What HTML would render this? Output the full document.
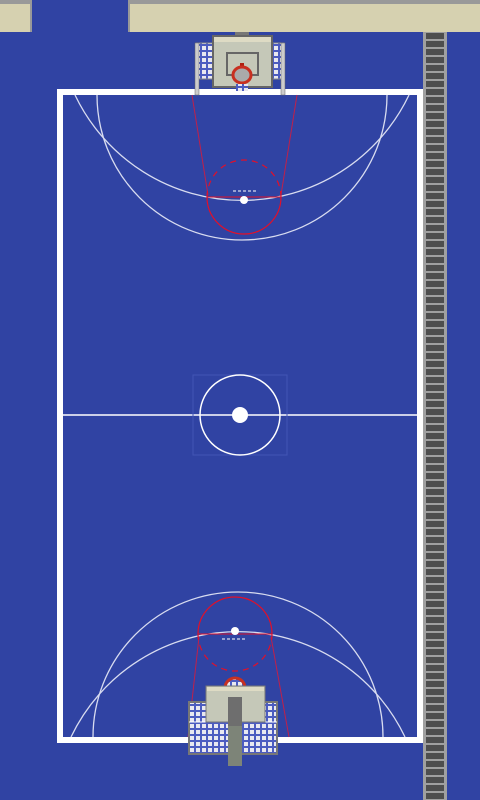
<!DOCTYPE html>
<html><head><meta charset="utf-8"><style>
html,body{margin:0;padding:0;width:480px;height:800px;overflow:hidden;background:#3043a3;font-family:"Liberation Sans",sans-serif}
svg{display:block}
</style></head><body>
<svg width="480" height="800" viewBox="0 0 480 800">
<defs>
<pattern id="net" width="6" height="6" patternUnits="userSpaceOnUse"><rect width="6" height="6" fill="#e8e8f0"/><path d="M3 0v6M0 3h6" stroke="#4c5cc0" stroke-width="2"/></pattern>
<pattern id="rung" x="423" y="32" width="24" height="8" patternUnits="userSpaceOnUse"><rect width="24" height="8" fill="#a0a0a0"/><rect x="3" y="1" width="18" height="6" fill="#4e4e4e"/></pattern>
</defs>
<rect width="480" height="800" fill="#3043a3"/>
<g>
<rect x="0" y="0" width="480" height="32" fill="#d6d1b0"/>
<rect x="0" y="0" width="480" height="4" fill="#999"/>
<rect x="30" y="0" width="100" height="32" fill="#999"/>
<rect x="32" y="0" width="96" height="32" fill="#3043a3"/>
</g>
<g>
<rect x="423" y="32" width="24" height="768" fill="url(#rung)"/>
</g>
<g fill="none">
<rect x="60" y="92" width="360" height="648" stroke="#fff" stroke-width="6"/>
<line x1="63" y1="415" x2="417" y2="415" stroke="#fff" stroke-width="1.5"/>
<rect x="193" y="375" width="94" height="80" stroke="#4255b5" stroke-width="1"/>
<circle cx="240" cy="415" r="40" stroke="#fff" stroke-width="1.5"/>
<circle cx="240" cy="415" r="8" fill="#fff"/>
<path d="M97 95 A145 145 0 0 0 387 95" stroke="#d8dcf0" stroke-width="1.3"/>
<path d="M75 95 A185 185 0 0 0 409 95" stroke="#d8dcf0" stroke-width="1.3"/>
<path d="M192 95 L208 195 M297 95 L281 195" stroke="#c0204a" stroke-width="1"/>
<path d="M207 197 A37 37 0 0 0 281 197" stroke="#e0102a" stroke-width="1.2"/>
<path d="M207 197 A37 37 0 0 1 281 197" stroke="#e0102a" stroke-width="1.2" stroke-dasharray="6 5"/>
<line x1="207" y1="197" x2="281" y2="197" stroke="#e0102a" stroke-width="1"/>
<line x1="233" y1="191" x2="258" y2="191" stroke="#fff" stroke-dasharray="3 2"/>
<circle cx="244" cy="200" r="4" fill="#fff"/>
<path d="M93 737 A145 145 0 0 1 383 737" stroke="#d8dcf0" stroke-width="1.3"/>
<path d="M71 737 A185 185 0 0 1 405 737" stroke="#d8dcf0" stroke-width="1.3"/>
<path d="M199 637 L188 737 M271 637 L289 737" stroke="#c0204a" stroke-width="1"/>
<path d="M198 634 A37 37 0 0 1 272 634" stroke="#e0102a" stroke-width="1.2"/>
<path d="M198 634 A37 37 0 0 0 272 634" stroke="#e0102a" stroke-width="1.2" stroke-dasharray="6 5"/>
<line x1="198" y1="634" x2="272" y2="634" stroke="#e0102a" stroke-width="1"/>
<line x1="222" y1="639" x2="247" y2="639" stroke="#fff" stroke-dasharray="3 2"/>
<circle cx="235" cy="631" r="4" fill="#fff"/>
</g>
<g>
<rect x="235" y="32" width="14" height="6" fill="#777"/>
<rect x="196" y="43" width="18" height="36" fill="url(#net)" stroke="#888"/>
<rect x="270" y="43" width="14" height="36" fill="url(#net)" stroke="#888"/>
<rect x="195" y="43" width="4" height="52" fill="#ccc" stroke="#666" stroke-width=".5"/>
<rect x="281" y="43" width="4" height="52" fill="#ccc" stroke="#666" stroke-width=".5"/>
<rect x="213" y="36" width="59" height="51" fill="#c5c8b8" stroke="#666" stroke-width="2"/>
<rect x="214" y="37" width="57" height="5" fill="#dedbc4"/>
<rect x="227" y="53" width="31" height="22" fill="none" stroke="#666" stroke-width="2"/>
<rect x="240" y="63" width="4" height="5" fill="#b02010"/>
<ellipse cx="242" cy="75" rx="9" ry="8" fill="#aaa" stroke="#c83020" stroke-width="3"/>
<rect x="236" y="84" width="12" height="7" fill="url(#net)"/>
</g>
<g>
<path d="M225 688 A10 10 0 0 1 245 688 Z" fill="url(#net)" stroke="#c83020" stroke-width="3"/>
<rect x="189" y="702" width="88" height="52" fill="url(#net)" stroke="#777" stroke-width="2"/>
<line x1="189" y1="722" x2="277" y2="722" stroke="#fff"/>
<rect x="206" y="686" width="59" height="36" fill="#c5c8b8" stroke="#777" stroke-width="1"/>
<rect x="207" y="687" width="57" height="4" fill="#dedbc4"/>
<rect x="228" y="697" width="14" height="69" fill="#6e6e6e"/>
<rect x="228" y="726" width="14" height="40" fill="#7d8478"/>
</g>
</svg>
</body></html>
